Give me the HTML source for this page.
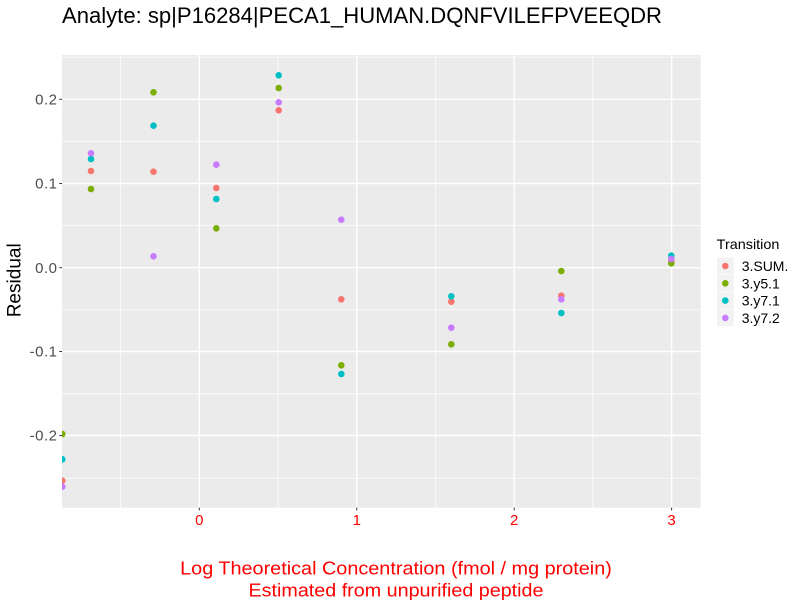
<!DOCTYPE html>
<html>
<head>
<meta charset="utf-8">
<style>
html,body{margin:0;padding:0;background:#fff;}
svg{display:block;}
text{font-family:"Liberation Sans",Arial,sans-serif;}
</style>
</head>
<body>
<svg width="800" height="600" viewBox="0 0 800 600" xmlns="http://www.w3.org/2000/svg">
<defs>
<clipPath id="pc"><rect x="62" y="55" width="638.7" height="452.7"/></clipPath>
</defs>
<rect x="0" y="0" width="800" height="600" fill="#fff"/>
<text x="62" y="23" font-size="22" fill="#000" textLength="600" lengthAdjust="spacingAndGlyphs">Analyte: sp|P16284|PECA1_HUMAN.DQNFVILEFPVEEQDR</text>
<rect x="62" y="55" width="638.7" height="452.7" fill="#EBEBEB"/>
<g stroke="#fff" stroke-width="0.7">
<line x1="62" x2="700.7" y1="57.2" y2="57.2"/>
<line x1="62" x2="700.7" y1="141.4" y2="141.4"/>
<line x1="62" x2="700.7" y1="225.6" y2="225.6"/>
<line x1="62" x2="700.7" y1="309.8" y2="309.8"/>
<line x1="62" x2="700.7" y1="393.9" y2="393.9"/>
<line x1="62" x2="700.7" y1="478.2" y2="478.2"/>
<line y1="55" y2="507.7" x1="120.6" x2="120.6"/>
<line y1="55" y2="507.7" x1="278" x2="278"/>
<line y1="55" y2="507.7" x1="435.5" x2="435.5"/>
<line y1="55" y2="507.7" x1="592.9" x2="592.9"/>
</g>
<g stroke="#fff" stroke-width="1.4">
<line x1="62" x2="700.7" y1="99.3" y2="99.3"/>
<line x1="62" x2="700.7" y1="183.5" y2="183.5"/>
<line x1="62" x2="700.7" y1="267.7" y2="267.7"/>
<line x1="62" x2="700.7" y1="351.5" y2="351.5"/>
<line x1="62" x2="700.7" y1="435.5" y2="435.5"/>
<line y1="55" y2="507.7" x1="199.3" x2="199.3"/>
<line y1="55" y2="507.7" x1="356.8" x2="356.8"/>
<line y1="55" y2="507.7" x1="514.2" x2="514.2"/>
<line y1="55" y2="507.7" x1="671.6" x2="671.6"/>
</g>
<g clip-path="url(#pc)">
<g fill="#F8766D">
<circle cx="62.3" cy="480.7" r="3.3"/>
<circle cx="91" cy="171" r="3.3"/>
<circle cx="153.5" cy="171.7" r="3.3"/>
<circle cx="216.3" cy="188" r="3.3"/>
<circle cx="278.7" cy="110.3" r="3.3"/>
<circle cx="341.3" cy="299.3" r="3.3"/>
<circle cx="451.3" cy="301.7" r="3.3"/>
<circle cx="561.3" cy="295.7" r="3.3"/>
<circle cx="671.3" cy="261" r="3.3"/>
</g>
<g fill="#7CAE00">
<circle cx="62.3" cy="434" r="3.3"/>
<circle cx="91" cy="189" r="3.3"/>
<circle cx="153.5" cy="92.3" r="3.3"/>
<circle cx="216.3" cy="228.3" r="3.3"/>
<circle cx="278.7" cy="88" r="3.3"/>
<circle cx="341.3" cy="365.3" r="3.3"/>
<circle cx="451.3" cy="344.3" r="3.3"/>
<circle cx="561.3" cy="271" r="3.3"/>
<circle cx="671.3" cy="263.3" r="3.3"/>
</g>
<g fill="#00BFC4">
<circle cx="62.3" cy="459.3" r="3.3"/>
<circle cx="91" cy="159" r="3.3"/>
<circle cx="153.5" cy="125.7" r="3.3"/>
<circle cx="216.3" cy="199" r="3.3"/>
<circle cx="278.7" cy="75.3" r="3.3"/>
<circle cx="341.3" cy="374" r="3.3"/>
<circle cx="451.3" cy="296.3" r="3.3"/>
<circle cx="561.3" cy="313" r="3.3"/>
<circle cx="671.3" cy="255.7" r="3.3"/>
</g>
<g fill="#C77CFF">
<circle cx="62.3" cy="486.7" r="3.3"/>
<circle cx="91" cy="153.3" r="3.3"/>
<circle cx="153.5" cy="256.3" r="3.3"/>
<circle cx="216.3" cy="164.7" r="3.3"/>
<circle cx="278.7" cy="102.3" r="3.3"/>
<circle cx="341.3" cy="219.7" r="3.3"/>
<circle cx="451.3" cy="327.7" r="3.3"/>
<circle cx="561.3" cy="299.3" r="3.3"/>
<circle cx="671.3" cy="259" r="3.3"/>
</g>
</g>
<g stroke="#333" stroke-width="1">
<line x1="59.3" x2="62" y1="99.3" y2="99.3"/>
<line x1="59.3" x2="62" y1="183.5" y2="183.5"/>
<line x1="59.3" x2="62" y1="267.7" y2="267.7"/>
<line x1="59.3" x2="62" y1="351.5" y2="351.5"/>
<line x1="59.3" x2="62" y1="435.5" y2="435.5"/>
<line y1="507.7" y2="510.4" x1="199.3" x2="199.3"/>
<line y1="507.7" y2="510.4" x1="356.8" x2="356.8"/>
<line y1="507.7" y2="510.4" x1="514.2" x2="514.2"/>
<line y1="507.7" y2="510.4" x1="671.6" x2="671.6"/>
</g>
<g font-size="15" fill="#4D4D4D" text-anchor="end" letter-spacing="0.5">
<text x="57.5" y="104.5">0.2</text>
<text x="57.5" y="188.7">0.1</text>
<text x="57.5" y="272.9">0.0</text>
<text x="57.5" y="356.7">-0.1</text>
<text x="57.5" y="440.7">-0.2</text>
</g>
<g font-size="15" fill="#FF0000" text-anchor="middle">
<text x="199.3" y="525">0</text>
<text x="356.8" y="525">1</text>
<text x="514.2" y="525">2</text>
<text x="671.6" y="525">3</text>
</g>
<g font-size="18.3" fill="#FF0000" text-anchor="middle">
<text x="396" y="574.5" textLength="431.7" lengthAdjust="spacingAndGlyphs">Log Theoretical Concentration (fmol / mg protein)</text>
<text x="396" y="596.5" textLength="295" lengthAdjust="spacingAndGlyphs">Estimated from unpurified peptide</text>
</g>
<text transform="translate(20.5,280.3) rotate(-90)" font-size="19" fill="#000" text-anchor="middle" textLength="74" lengthAdjust="spacingAndGlyphs">Residual</text>
<text x="716.7" y="249" font-size="14" fill="#000" textLength="62.7" lengthAdjust="spacingAndGlyphs">Transition</text>
<g fill="#F2F2F2" stroke="#fff" stroke-width="0.5">
<rect x="716.7" y="257.3" width="17.3" height="17.3"/>
<rect x="716.7" y="274.6" width="17.3" height="17.3"/>
<rect x="716.7" y="291.9" width="17.3" height="17.3"/>
<rect x="716.7" y="309.2" width="17.3" height="17.3"/>
</g>
<circle cx="725.3" cy="266" r="3.3" fill="#F8766D"/>
<circle cx="725.3" cy="283.3" r="3.3" fill="#7CAE00"/>
<circle cx="725.3" cy="300.6" r="3.3" fill="#00BFC4"/>
<circle cx="725.3" cy="317.9" r="3.3" fill="#C77CFF"/>
<g font-size="14" fill="#000">
<text x="741.7" y="271">3.SUM.</text>
<text x="741.7" y="288.3">3.y5.1</text>
<text x="741.7" y="305.6">3.y7.1</text>
<text x="741.7" y="322.9">3.y7.2</text>
</g>
</svg>
</body>
</html>
